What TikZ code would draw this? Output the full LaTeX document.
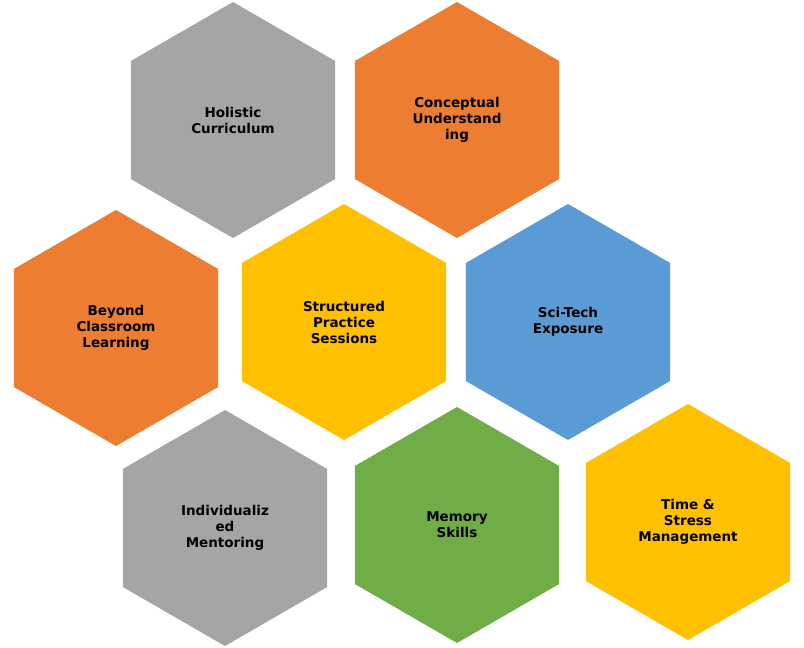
\documentclass[tikz,border=0pt]{standalone}
\usepackage{fontspec}
\setmainfont{DejaVu Sans}
\begin{document}
\begin{tikzpicture}[x=1pt,y=-1pt,
  hex/.style={draw=none},
  lab/.style={font=\bfseries\fontsize{13.5}{16}\selectfont,align=center,text=black}]
\useasboundingbox (0,0) rectangle (804,648);
\definecolor{cg}{HTML}{A5A5A5}
\definecolor{co}{HTML}{ED7D31}
\definecolor{cy}{HTML}{FFC000}
\definecolor{cb}{HTML}{5B9BD5}
\definecolor{cgr}{HTML}{70AD47}
\foreach \x/\y/\c/\n/\t in {
 233/120/cg/h1/{Holistic\\Curriculum},
 457/120/co/h2/{Conceptual\\Understand\\ing},
 116/328/co/h3/{Beyond\\Classroom\\Learning},
 344/322/cy/h4/{Structured\\Practice\\Sessions},
 568/322/cb/h5/{Sci-Tech\\Exposure},
 225/528/cg/h6/{Individualiz\\ed\\Mentoring},
 457/525/cgr/h7/{Memory\\Skills},
 688/522/cy/h8/{Time \&\\Stress\\Management}}{
  \fill[\c] (\x,\y) ++(90:-118) -- ++(-30:-118) -- ++(-90:-118) -- ++(-150:-118) -- ++(150:-118) -- ++(90:-118) -- cycle;
  \node[lab] (\n) at (\x,\y) {\t};
}
\end{tikzpicture}
\end{document}
